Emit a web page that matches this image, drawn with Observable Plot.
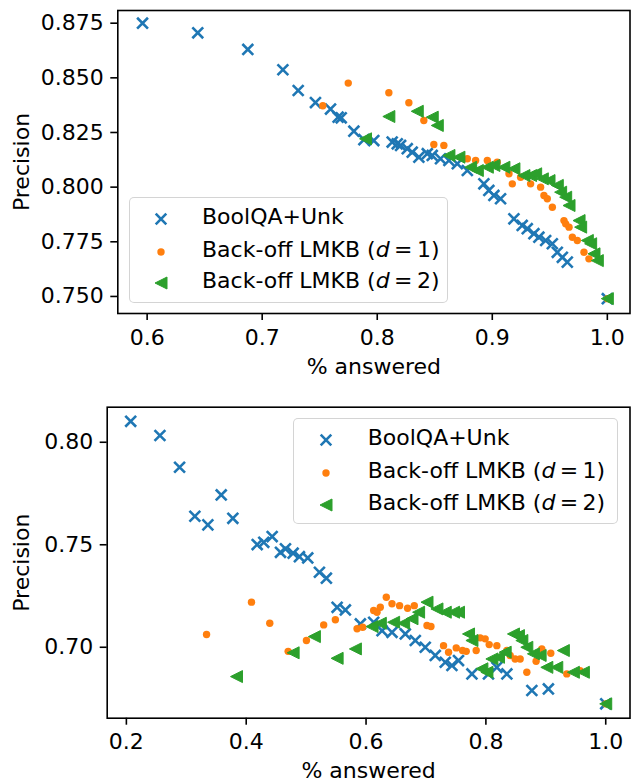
<!DOCTYPE html>
<html><head><meta charset="utf-8">
<script src="https://cdn.jsdelivr.net/npm/d3@7"></script>
<script src="https://cdn.jsdelivr.net/npm/@observablehq/plot@0.6"></script>
<style>
body{margin:0;background:#fff;font-family:"DejaVu Sans",sans-serif;}
#fig{position:relative;width:636px;height:783px;overflow:hidden;background:#fff}
.panel{position:absolute;left:0}
.legend{position:absolute;border:1.6px solid rgba(204,204,204,0.85);border-radius:5px;background:rgba(255,255,255,0.8);box-sizing:border-box}
.row{position:absolute;font-size:22px;line-height:26px;height:26px;white-space:nowrap;color:#000}
.mk{position:absolute}
</style></head>
<body><div id="fig"></div>
<script>
// ---------- data ----------
const seriesNames = ["BoolQA+Unk", "Back-off LMKB (d = 1)", "Back-off LMKB (d = 2)"];
const colors = ["#1f77b4", "#ff7f0e", "#2ca02c"];

// top panel
const topBlueX = [0.596,0.644,0.6875,0.718,0.7313,0.7463,0.7594,0.766,0.7687,0.7797,0.7884,0.797,0.813,0.8174,0.8203,0.8261,0.8304,0.8362,0.8435,0.8478,0.855,0.8623,0.8696,0.8783,0.8927,0.897,0.9014,0.9072,0.9188,0.926,0.9304,0.9362,0.9405,0.9464,0.9522,0.9565,0.9609,0.9652,1.0];
const topBlueY = [0.875,0.8706,0.863,0.8537,0.8442,0.8387,0.8357,0.832,0.8317,0.8256,0.8217,0.8213,0.8206,0.8198,0.8191,0.8176,0.816,0.8137,0.8153,0.8145,0.813,0.8122,0.8107,0.8076,0.8015,0.7985,0.7962,0.7947,0.7855,0.7825,0.781,0.7787,0.7771,0.7756,0.7741,0.7702,0.7679,0.7657,0.749];
const topOrangeX = [0.7527,0.7748,0.8101,0.8275,0.8405,0.8492,0.8579,0.8783,0.8855,0.8957,0.9043,0.9145,0.9174,0.9246,0.9333,0.942,0.9449,0.9478,0.9522,0.9623,0.9638,0.9667,0.9696,0.9739,0.9797,0.984,1.0];
const topOrangeY = [0.8372,0.8476,0.8432,0.8386,0.8305,0.8195,0.8191,0.813,0.8122,0.8122,0.8114,0.8061,0.8015,0.8045,0.8015,0.80,0.7962,0.7947,0.7908,0.7847,0.7832,0.7817,0.7771,0.7756,0.7702,0.7672,0.749];
const topGreenX = [0.7898,0.8101,0.8348,0.8478,0.8522,0.8623,0.871,0.8812,0.887,0.8957,0.9014,0.9101,0.9188,0.9275,0.9333,0.9377,0.9435,0.9493,0.9565,0.9594,0.9638,0.9667,0.9754,0.9768,0.9826,0.9855,0.9884,0.9913,1.0];
const topGreenY = [0.8221,0.8323,0.8347,0.832,0.8282,0.8145,0.8137,0.8091,0.8076,0.8091,0.8099,0.8091,0.8084,0.8053,0.8053,0.8061,0.8038,0.803,0.8008,0.7977,0.7954,0.7916,0.7847,0.7817,0.7756,0.7741,0.7695,0.7664,0.749];
const topXTicks = [0.6,0.7,0.8,0.9,1.0];
const topYTicks = [0.75,0.775,0.8,0.825,0.85,0.875];

// bottom panel
const botBlueX = [0.2072,0.256,0.2888,0.3143,0.336,0.3583,0.3777,0.4183,0.4293,0.4433,0.4572,0.4655,0.4783,0.4888,0.5027,0.5222,0.5338,0.5517,0.5655,0.5905,0.6127,0.6267,0.6433,0.6655,0.6822,0.6988,0.7155,0.7322,0.7433,0.7543,0.7767,0.8043,0.8183,0.835,0.8767,0.9043,1.0];
const botBlueY = [0.8102,0.8033,0.7878,0.7639,0.7597,0.7743,0.7629,0.7501,0.7512,0.754,0.7463,0.748,0.7459,0.7442,0.7436,0.7366,0.7337,0.7195,0.7182,0.7114,0.7122,0.7081,0.7073,0.7065,0.7033,0.70,0.696,0.6927,0.6911,0.6935,0.687,0.687,0.6902,0.687,0.6789,0.6797,0.6724];
const botOrangeX = [0.3338,0.4088,0.4393,0.47,0.5005,0.5293,0.5488,0.585,0.5943,0.6127,0.6183,0.6238,0.6338,0.6433,0.656,0.6693,0.6805,0.7017,0.7083,0.7293,0.7377,0.7505,0.761,0.7672,0.7838,0.7905,0.7988,0.8055,0.8183,0.835,0.8405,0.8488,0.8572,0.8683,0.8838,0.8933,0.9083,0.935,0.9572,1.0];
const botOrangeY = [0.7062,0.722,0.7117,0.698,0.7033,0.7109,0.7134,0.709,0.7098,0.7179,0.7171,0.7195,0.7244,0.7212,0.7203,0.719,0.7203,0.7106,0.7101,0.7008,0.6976,0.6997,0.6984,0.698,0.6984,0.7046,0.7041,0.7013,0.7008,0.6984,0.696,0.6943,0.6943,0.6878,0.6932,0.6992,0.6971,0.687,0.6886,0.6724];
const botGreenX = [0.3838,0.4783,0.5138,0.5517,0.5822,0.61,0.6238,0.646,0.6627,0.6767,0.6877,0.7017,0.7183,0.7322,0.746,0.7543,0.771,0.7767,0.7933,0.8017,0.81,0.821,0.8322,0.846,0.8543,0.86,0.8683,0.8793,0.8905,0.9017,0.9183,0.9293,0.946,0.9627,1.0];
const botGreenY = [0.6857,0.6973,0.7052,0.6946,0.6992,0.7101,0.7117,0.7122,0.7117,0.7139,0.7171,0.722,0.7187,0.7171,0.7171,0.7171,0.7065,0.7033,0.6895,0.6878,0.6943,0.6951,0.6976,0.7065,0.7057,0.7033,0.70,0.6968,0.696,0.6902,0.6902,0.6984,0.6878,0.6878,0.6724];
const botXTicks = [0.2,0.4,0.6,0.8,1.0];
const botYTicks = [0.70,0.75,0.80];

// ---------- drawing ----------
const zip = (xs, ys) => xs.map((x, i) => ({x, y: ys[i]}));
const triLeft = {draw(ctx, size) { const r = Math.sqrt(size / Math.PI); ctx.moveTo(-r, 0); ctx.lineTo(r, -r); ctx.lineTo(r, r); ctx.closePath(); }};

function panel(o) {
  return Plot.plot({
    width: 636, height: o.height,
    marginTop: o.mt, marginBottom: o.mb, marginLeft: o.ml, marginRight: 6.5,
    style: {fontFamily: '"DejaVu Sans", sans-serif', fontSize: "22px", color: "black", background: "white", overflow: "visible"},
    x: {domain: o.xDomain},
    y: {domain: o.yDomain},
    marks: [
      Plot.axisX({ticks: o.xTicks, tickFormat: d3.format(".1f"), tickSize: 7, tickPadding: 8.5, strokeWidth: 1.6, fontSize: 22,
        label: "% answered", labelArrow: "none", labelAnchor: "center", labelOffset: 60}),
      Plot.axisY({ticks: o.yTicks, tickFormat: d3.format(o.yFmt), tickSize: 7, tickPadding: 7, strokeWidth: 1.6, fontSize: 22,
        label: "Precision", labelArrow: "none", labelAnchor: "center", labelOffset: o.ylo}),
      Plot.dot(zip(o.bx, o.by), {x: "x", y: "y", symbol: "times", r: 5, stroke: colors[0], strokeWidth: 2.6}),
      Plot.dot(zip(o.ox, o.oy), {x: "x", y: "y", r: 3.7, fill: colors[1], stroke: null}),
      Plot.dot(zip(o.gx, o.gy), {x: "x", y: "y", symbol: triLeft, r: 6, fill: colors[2], stroke: colors[2], strokeWidth: 1}),
      Plot.frame({stroke: "black", strokeWidth: 1.6})
    ]
  });
}

function markerSvg(i) {
  const c = colors[i];
  if (i === 0) return `<svg width="16" height="16" viewBox="-8 -8 16 16"><path d="M-5.3,-5.3L5.3,5.3M-5.3,5.3L5.3,-5.3" stroke="${c}" stroke-width="2.6"/></svg>`;
  if (i === 1) return `<svg width="16" height="16" viewBox="-8 -8 16 16"><circle r="3.7" fill="${c}"/></svg>`;
  return `<svg width="16" height="16" viewBox="-8 -8 16 16"><path d="M-6,0L6,-6L6,6Z" fill="${c}" stroke="${c}" stroke-width="1"/></svg>`;
}
function labelHtml(i) {
  if (i === 0) return seriesNames[0];
  const d = i === 1 ? "1" : "2";
  return `Back-off LMKB (<i>d</i>&#8201;=&#8201;${d})`;
}
function legend(box) {
  const L = document.createElement("div");
  L.className = "legend";
  Object.assign(L.style, {left: box.left + "px", top: box.top + "px", width: box.w + "px", height: box.h + "px"});
  box.rows.forEach((cy, i) => {
    const m = document.createElement("div");
    m.className = "mk";
    Object.assign(m.style, {left: (box.mx - 8) + "px", top: (cy + 2 - 8) + "px", width: "16px", height: "16px"});
    m.innerHTML = markerSvg(i);
    L.appendChild(m);
    const t = document.createElement("div");
    t.className = "row";
    Object.assign(t.style, {left: box.tx + "px", top: (cy - 13) + "px"});
    t.innerHTML = labelHtml(i);
    L.appendChild(t);
  });
  return L;
}

const fig = document.getElementById("fig");
const p1 = document.createElement("div"); p1.className = "panel"; p1.style.top = "0px";
p1.appendChild(panel({height: 391, mt: 10, mb: 78, ml: 117.3, xDomain: [0.5745, 1.0197], yDomain: [0.7422, 0.8808],
  xTicks: topXTicks, yTicks: topYTicks, yFmt: ".3f", ylo: 104,
  bx: topBlueX, by: topBlueY, ox: topOrangeX, oy: topOrangeY, gx: topGreenX, gy: topGreenY}));
p1.appendChild(legend({left: 129, top: 197, w: 319, h: 106, mx: 31, tx: 72, rows: [19, 51.5, 83]}));
fig.appendChild(p1);

const p2 = document.createElement("div"); p2.className = "panel"; p2.style.top = "391px";
p2.appendChild(panel({height: 392, mt: 15.7, mb: 65.3, ml: 106.7, xDomain: [0.168, 1.0405], yDomain: [0.6654, 0.8171],
  xTicks: botXTicks, yTicks: botYTicks, yFmt: ".2f", ylo: 94,
  bx: botBlueX, by: botBlueY, ox: botOrangeX, oy: botOrangeY, gx: botGreenX, gy: botGreenY}));
const lg2 = legend({left: 293.3, top: 27.3, w: 324.4, h: 105.7, mx: 31.7, tx: 73.4, rows: [18.7, 51.7, 83.4]});
p2.appendChild(lg2);
fig.appendChild(p2);
</script></body></html>
